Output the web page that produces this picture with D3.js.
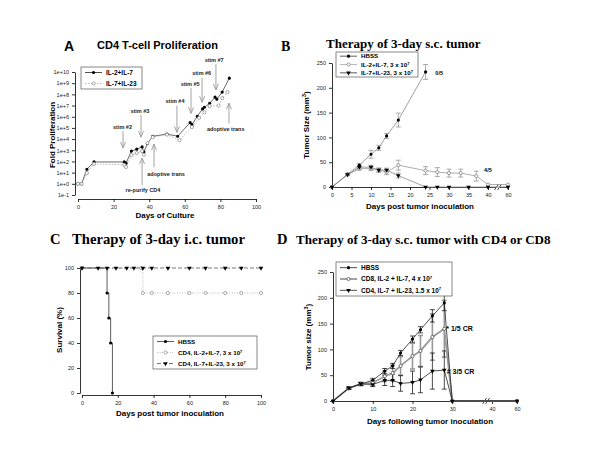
<!DOCTYPE html>
<html>
<head>
<meta charset="utf-8">
<script src="https://cdnjs.cloudflare.com/ajax/libs/d3/7.8.5/d3.min.js"></script>
<style>
body { margin: 0; background: #fff; }
svg text { font-family: Arial, "Liberation Sans", sans-serif; }
.serif { font-family: "Times New Roman", "Liberation Serif", serif; font-weight: bold; }
.lab { font-weight: bold; }
</style>
</head>
<body>
<svg id="fig" width="600" height="450"></svg>
<script>

// ---- Panel A: CD4 T-cell proliferation (fold) ----
const aDaysIL27  = [0, 2, 5, 9, 26, 27, 30, 33, 36, 37, 39, 42, 50, 56, 63, 64, 67, 70, 71, 74, 77, 78, 81, 85];
const aFoldIL27  = [1, 1, 20, 90, 90, 70, 850, 1250, 2000, 700, 4000, 18000, 28000, 18000, 3e5, 2e5, 1.1e6, 5e6, 7e6, 1.6e7, 5.6e7, 3.7e7, 1.6e8, 2.8e9];
const aDaysIL723 = [0, 2, 5, 9, 26, 27, 30, 33, 36, 37, 39, 42, 50, 57, 64, 68, 71, 74, 79, 81, 84];
const aFoldIL723 = [1, 1, 9, 60, 50, 32, 370, 560, 850, 400, 4400, 15000, 25000, 8000, 1.2e5, 8e5, 2.5e6, 9e6, 1e7, 4.5e7, 1.6e8];
const aYTicks = [1e-1, 1e0, 1e1, 1e2, 1e3, 1e4, 1e5, 1e6, 1e7, 1e8, 1e9, 1e10];
const aXTicks = [0, 20, 40, 60, 80, 100];
const aNoteText = ["stim #2", "stim #3", "stim #4", "stim #5", "stim #6", "stim #7", "re-purify CD4", "adoptive trans", "adoptive trans"];
const aNoteDay  = [25.3, 35.4, 55.6, 63.5, 69.7, 77.5, 36, 42.7, 84.8];
const aNoteTextDay = [25, 34.8, 54.5, 63, 69.5, 76.5, 36.5, 49.5, 83];
const aNoteTextAt  = [1.2e5, 3e6, 2.5e7, 8e8, 8e9, 1.1e11, 0.28, 7.5, 8e4];
const aNoteFrom = [5e4, 1.4e6, 1e7, 3.5e8, 3e9, 5e10, 0.8, 30, 2.5e5];
const aNoteTo   = [1.6e3, 1.5e4, 4e4, 2e6, 2e7, 2.5e8, 200, 3500, 1.6e7];

// ---- Panel B: s.c. tumor size ----
const bDaysHBSS = [0, 4, 7, 10, 12, 14, 17, 24];
const bHBSS     = [0, 26, 44, 66, 79, 103, 135, 232];
const bHBSSErr  = [0, 2, 3, 8, 5, 5, 14, 15];
const bDaysIL27 = [0, 4, 7, 10, 12, 14, 17, 24, 27, 30, 33, 37, 40, 60];
const bIL27     = [0, 25, 37, 37, 34, 30, 44, 33, 30, 28, 28, 22, 5, 5];
const bIL27Err  = [0, 2, 3, 4, 4, 5, 10, 8, 9, 8, 8, 10, 0, 0];
const bDaysIL723 = [0, 4, 7, 10, 12, 14, 17, 24, 27, 30, 35, 40, 60];
const bIL723     = [0, 25, 40, 40, 34, 34, 23, 0, 0, 0, 0, 0, 0];
const bIL723Err  = [0, 2, 3, 4, 4, 4, 5, 0, 0, 0, 0, 0, 0];
const bXTicks = [0, 5, 10, 15, 20, 25, 30, 35, 40, 60];
const bYTicks = [0, 50, 100, 150, 200, 250];

// ---- Panel C: i.c. tumor survival ----
const cDaysHBSS = [0, 14, 15, 16, 17];
const cSurvHBSS = [100, 80, 60, 40, 0];
const cDaysIL27 = [0, 33, 34, 39, 48, 60, 69, 80, 89, 100];
const cSurvIL27 = [100, 100, 80, 80, 80, 80, 80, 80, 80, 80];
const cDaysIL723 = [0, 9, 14, 19, 25, 29, 34, 39, 48, 60, 69, 80, 89, 100];
const cSurvIL723 = [100, 100, 100, 100, 100, 100, 100, 100, 100, 100, 100, 100, 100, 100];
const cXTicks = [0, 20, 40, 60, 80, 100];
const cYTicks = [0, 20, 40, 60, 80, 100];

// ---- Panel D: s.c. tumor with CD4 or CD8 ----
const dDays    = [0, 4, 7, 10, 13, 15, 17, 20, 22, 25, 28, 30, 60];
const dHBSS    = [0, 25, 33, 40, 58, 68, 93, 120, 138, 165, 190, 0, 0];
const dHBSSErr = [0, 2, 3, 4, 5, 5, 5, 6, 6, 12, 15, 0, 0];
const dCD8     = [0, 25, 33, 35, 48, 54, 68, 87, 97, 124, 140, 0, 0];
const dCD8Err  = [0, 2, 3, 5, 10, 15, 18, 25, 30, 45, 55, 0, 0];
const dCD4     = [0, 25, 33, 32, 40, 40, 34, 36, 41, 58, 60, 0, 0];
const dCD4Err  = [0, 2, 3, 4, 10, 12, 15, 22, 25, 35, 37, 0, 0];
const dXTicks = [0, 10, 20, 30, 40, 60];
const dYTicks = [0, 50, 100, 150, 200, 250];

const svg = d3.select("#fig");
const zip = (xs, ys, es) => xs.map((x, i) => ({x: x, y: ys[i], e: es ? es[i] : 0}));

// style a d3 axis the SigmaPlot way: thin, tiny labels
function styleAxis(g) {
	g.attr("font-size", 5.5).attr("font-family", "Arial, 'Liberation Sans', sans-serif");
	g.select(".domain").attr("stroke", "#000").attr("stroke-width", 0.8);
	g.selectAll(".tick line").attr("stroke", "#000").attr("stroke-width", 0.8);
	g.selectAll(".tick text").attr("fill", "#222");
}

// markers: filled circle, open circle, down triangle
function drawMarkers(g, pts, x, y, kind, col) {
	const sel = g.append("g").selectAll("path").data(pts).join("path")
		.attr("transform", d => `translate(${x(d.x)},${y(d.y)})` + (kind === "tri" ? " rotate(180)" : ""));
	if (kind === "tri") {
		sel.attr("d", d3.symbol(d3.symbolTriangle, 9)).attr("fill", col || "#000");
	} else {
		sel.attr("d", d3.symbol(d3.symbolCircle, 8))
			.attr("fill", kind === "open" ? "#fff" : (col || "#000"))
			.attr("stroke", kind === "open" ? (col || "#777") : "none")
			.attr("stroke-width", 0.7);
	}
}

function drawErrors(g, pts, x, y, col, w) {
	const eb = g.append("g").attr("stroke", col).attr("stroke-width", w || 0.7).attr("fill", "none");
	pts.filter(d => d.e > 0).forEach(d => {
		const cx = x(d.x), y0 = y(d.y - d.e), y1 = y(d.y + d.e);
		eb.append("line").attr("x1", cx).attr("x2", cx).attr("y1", y0).attr("y2", y1);
		eb.append("line").attr("x1", cx - 2.5).attr("x2", cx + 2.5).attr("y1", y0).attr("y2", y0);
		eb.append("line").attr("x1", cx - 2.5).attr("x2", cx + 2.5).attr("y1", y1).attr("y2", y1);
	});
}

function drawLine(g, pts, x, y, opts) {
	g.append("path").datum(pts)
		.attr("fill", "none")
		.attr("stroke", opts.color)
		.attr("stroke-width", opts.width || 0.8)
		.attr("stroke-dasharray", opts.dash || null)
		.attr("d", d3.line().x(d => x(d.x)).y(d => y(d.y)).curve(opts.curve || d3.curveLinear));
}

// legend rows: [{label, kind, color, dash, width, sup}]
function drawLegend(g, x0, y0, w, h, rows, fs) {
	const lg = g.append("g");
	lg.append("rect").attr("x", x0).attr("y", y0).attr("width", w).attr("height", h)
		.attr("fill", "#fff").attr("stroke", "#555").attr("stroke-width", 0.7);
	const step = h / rows.length;
	rows.forEach((r, i) => {
		const cy = y0 + step * (i + 0.5);
		lg.append("line").attr("x1", x0 + 4).attr("x2", x0 + 21).attr("y1", cy).attr("y2", cy)
			.attr("stroke", r.color).attr("stroke-width", r.width || 0.8).attr("stroke-dasharray", r.dash || null);
		const id = d3.scaleLinear();
		drawMarkers(lg, [{x: x0 + 12.5, y: cy}], id, id, r.kind, r.mcol);
		const t = lg.append("text").attr("class", "lab").attr("x", x0 + 25).attr("y", cy).attr("dy", "0.35em")
			.attr("font-size", fs).text(r.label);
		if (r.sup) t.append("tspan").attr("font-size", fs * 0.65).attr("dy", "-0.5em").text(r.sup);
	});
}

function breakMarks(g, cx, cy) {
	const b = g.append("g");
	b.append("rect").attr("x", cx - 2).attr("y", cy - 3).attr("width", 4).attr("height", 6).attr("fill", "#fff");
	[-1.5, 1.5].forEach(o => b.append("line").attr("x1", cx + o - 2).attr("x2", cx + o + 2)
		.attr("y1", cy + 3).attr("y2", cy - 3).attr("stroke", "#000").attr("stroke-width", 0.7));
}

// ================= Panel A =================
(function() {
	const g = svg.append("g");
	const x = d3.scaleLinear().domain([0, 100]).range([78, 256]);
	const y = d3.scaleLog().domain([1e-1, 1e10]).range([195, 72]);

	g.append("g").attr("transform", "translate(0,199)")
		.call(d3.axisBottom(x).tickValues(aXTicks).tickSize(3).tickSizeOuter(0)).call(styleAxis);
	g.append("g").attr("transform", "translate(75,0)")
		.call(d3.axisLeft(y).tickValues(aYTicks).tickSize(3).tickSizeOuter(0)
			.tickFormat(d => { const e = Math.round(Math.log10(d)); return "1e" + (e >= 0 ? "+" : "") + e; }))
		.call(styleAxis);

	const il27 = zip(aDaysIL27, aFoldIL27);
	const il723 = zip(aDaysIL723, aFoldIL723);
	drawLine(g, il27, x, y, {color: "#444"});
	drawLine(g, il723, x, y, {color: "#aaa", dash: "1.5,1.5"});
	drawMarkers(g, il27, x, y, "filled");
	drawMarkers(g, il723, x, y, "open", "#888");

	// annotation arrows
	const ag = g.append("g");
	aNoteText.forEach((t, i) => {
		const ax = x(aNoteDay[i]), y1 = y(aNoteFrom[i]), y2 = y(aNoteTo[i]);
		const dir = y2 > y1 ? 1 : -1;
		ag.append("line").attr("x1", ax).attr("x2", ax).attr("y1", y1).attr("y2", y2)
			.attr("stroke", "#999").attr("stroke-width", 0.9);
		ag.append("path").attr("d", `M${ax - 2.5},${y2 - dir * 6} L${ax},${y2} L${ax + 2.5},${y2 - dir * 6}`)
			.attr("fill", "none").attr("stroke", "#999").attr("stroke-width", 0.9);
		ag.append("text").attr("class", "lab").attr("x", x(aNoteTextDay[i])).attr("y", y(aNoteTextAt[i]))
			.attr("dy", "0.35em").attr("text-anchor", "middle").attr("font-size", 5.5).attr("fill", "#222").text(t);
	});

	drawLegend(g, 81, 67, 61, 22, [
		{label: "IL-2+IL-7", kind: "filled", color: "#222"},
		{label: "IL-7+IL-23", kind: "open", color: "#aaa", dash: "1.5,1.5", mcol: "#888"}
	], 6.5);

	g.append("text").attr("class", "lab").attr("x", 64).attr("y", 51).attr("font-size", 14).text("A");
	g.append("text").attr("class", "lab").attr("x", 97).attr("y", 49).attr("font-size", 11).text("CD4 T-cell Proliferation");
	g.append("text").attr("class", "lab").attr("x", 165).attr("y", 218).attr("text-anchor", "middle")
		.attr("font-size", 8).text("Days of Culture");
	g.append("text").attr("class", "lab").attr("transform", "translate(55,135) rotate(-90)")
		.attr("text-anchor", "middle").attr("font-size", 8).text("Fold Proliferation");
})();

// ================= Panel B =================
(function() {
	const g = svg.append("g");
	const x = d3.scaleLinear().domain([0, 40, 60]).range([332, 488, 508]);
	const y = d3.scaleLinear().domain([0, 250]).range([187, 63]);

	g.append("g").attr("transform", "translate(0,187)")
		.call(d3.axisBottom(x).tickValues(bXTicks).tickSize(3).tickSizeOuter(0)).call(styleAxis);
	g.append("g").attr("transform", "translate(332,0)")
		.call(d3.axisLeft(y).tickValues(bYTicks).tickSize(3).tickSizeOuter(0)).call(styleAxis);
	breakMarks(g, x(50), 187);

	const hb = zip(bDaysHBSS, bHBSS, bHBSSErr);
	const s1 = zip(bDaysIL27, bIL27, bIL27Err);
	const s2 = zip(bDaysIL723, bIL723, bIL723Err);
	drawErrors(g, hb, x, y, "#888");
	drawErrors(g, s1, x, y, "#888");
	drawErrors(g, s2, x, y, "#888");
	drawLine(g, hb, x, y, {color: "#888"});
	drawLine(g, s1, x, y, {color: "#999"});
	drawLine(g, s2, x, y, {color: "#888"});
	drawMarkers(g, hb, x, y, "filled");
	drawMarkers(g, s1, x, y, "open", "#777");
	drawMarkers(g, s2, x, y, "tri");

	g.append("text").attr("class", "lab").attr("x", x(26.5)).attr("y", y(230)).attr("dy", "0.35em")
		.attr("font-size", 5.5).text("0/5");
	g.append("text").attr("class", "lab").attr("x", x(39)).attr("y", y(34)).attr("dy", "0.35em")
		.attr("font-size", 5.5).text("4/5");

	drawLegend(g, 336, 52, 82, 25, [
		{label: "HBSS", kind: "filled", color: "#333"},
		{label: "IL-2+IL-7, 3 x 10", sup: "7", kind: "open", color: "#aaa", mcol: "#777"},
		{label: "IL-7+IL-23, 3 x 10", sup: "7", kind: "tri", color: "#333"}
	], 6.2);

	g.append("text").attr("class", "serif").attr("x", 281).attr("y", 51).attr("font-size", 14).text("B");
	g.append("text").attr("class", "serif").attr("x", 326).attr("y", 48).attr("font-size", 13).text("Therapy of 3-day s.c. tumor");
	g.append("text").attr("class", "lab").attr("x", 420).attr("y", 209).attr("text-anchor", "middle")
		.attr("font-size", 8).text("Days post tumor inoculation");
	const yt = g.append("text").attr("class", "lab").attr("transform", "translate(309,125) rotate(-90)")
		.attr("text-anchor", "middle").attr("font-size", 8).text("Tumor Size (mm");
	yt.append("tspan").attr("font-size", 5.5).attr("dy", "-0.6em").text("3");
	yt.append("tspan").attr("dy", "0.4em").text(")");
})();

// ================= Panel C =================
(function() {
	const g = svg.append("g");
	const x = d3.scaleLinear().domain([0, 100]).range([82, 261]);
	const y = d3.scaleLinear().domain([0, 100]).range([393, 268]);

	g.append("g").attr("transform", "translate(0,395)")
		.call(d3.axisBottom(x).tickValues(cXTicks).tickSize(3).tickSizeOuter(0)).call(styleAxis);
	g.append("g").attr("transform", "translate(80,0)")
		.call(d3.axisLeft(y).tickValues(cYTicks).tickSize(3).tickSizeOuter(0)).call(styleAxis);

	const hb = zip(cDaysHBSS, cSurvHBSS);
	const s1 = zip(cDaysIL27, cSurvIL27);
	const s2 = zip(cDaysIL723, cSurvIL723);
	drawLine(g, s1, x, y, {color: "#aaa", dash: "1,1.5", curve: d3.curveStepAfter});
	drawLine(g, hb, x, y, {color: "#333", curve: d3.curveStepAfter});
	drawLine(g, s2, x, y, {color: "#555", dash: "4,2", curve: d3.curveStepAfter});
	drawMarkers(g, hb, x, y, "filled");
	drawMarkers(g, s1, x, y, "open", "#888");
	drawMarkers(g, s2, x, y, "tri");

	drawLegend(g, 153, 336, 104, 33, [
		{label: "HBSS", kind: "filled", color: "#333"},
		{label: "CD4, IL-2+IL-7, 3 x 10", sup: "7", kind: "open", color: "#aaa", dash: "1,1.5", mcol: "#888"},
		{label: "CD4, IL-7+IL-23, 3 x 10", sup: "7", kind: "tri", color: "#555", dash: "4,2"}
	], 6.2);

	g.append("text").attr("class", "serif").attr("x", 50).attr("y", 244).attr("font-size", 14.5).text("C");
	g.append("text").attr("class", "serif").attr("x", 72).attr("y", 244).attr("font-size", 14.7)
		.text("Therapy of 3-day i.c. tumor");
	g.append("text").attr("class", "lab").attr("x", 170).attr("y", 416).attr("text-anchor", "middle")
		.attr("font-size", 8).text("Days post tumor inoculation");
	g.append("text").attr("class", "lab").attr("transform", "translate(62,330) rotate(-90)")
		.attr("text-anchor", "middle").attr("font-size", 8).text("Survival (%)");
})();

// ================= Panel D =================
(function() {
	const g = svg.append("g");
	const x = d3.scaleLinear().domain([0, 40, 60]).range([333, 492, 517]);
	const y = d3.scaleLinear().domain([0, 250]).range([401, 272]);

	g.append("g").attr("transform", "translate(0,401)")
		.call(d3.axisBottom(x).tickValues(dXTicks).tickSize(3).tickSizeOuter(0)).call(styleAxis);
	g.append("g").attr("transform", "translate(333,0)")
		.call(d3.axisLeft(y).tickValues(dYTicks).tickSize(3).tickSizeOuter(0)).call(styleAxis);
	breakMarks(g, x(38.5), 401);

	const hb = zip(dDays, dHBSS, dHBSSErr);
	const c8 = zip(dDays, dCD8, dCD8Err);
	const c4 = zip(dDays, dCD4, dCD4Err);
	drawErrors(g, c8, x, y, "#999", 1.6);
	drawErrors(g, hb, x, y, "#000", 0.7);
	drawErrors(g, c4, x, y, "#000", 0.7);
	drawLine(g, c8, x, y, {color: "#999", width: 1.8});
	drawLine(g, hb, x, y, {color: "#222"});
	drawLine(g, c4, x, y, {color: "#222"});
	drawMarkers(g, hb, x, y, "filled");
	drawMarkers(g, c8, x, y, "open", "#444");
	drawMarkers(g, c4, x, y, "tri");

	g.append("text").attr("class", "lab").attr("x", x(28.5)).attr("y", y(140)).attr("dy", "0.35em")
		.attr("font-size", 7).text("*   1/5 CR");
	g.append("text").attr("class", "lab").attr("x", x(28.6)).attr("y", y(58)).attr("dy", "0.35em")
		.attr("font-size", 7).text("#  3/5 CR");

	drawLegend(g, 336, 262, 116, 34, [
		{label: "HBSS", kind: "filled", color: "#222"},
		{label: "CD8, IL-2 + IL-7,    4 x 10", sup: "7", kind: "open", color: "#999", width: 1.8, mcol: "#444"},
		{label: "CD4, IL-7 + IL-23, 1.5 x 10", sup: "7", kind: "tri", color: "#222"}
	], 6.5);

	g.append("text").attr("class", "serif").attr("x", 277).attr("y", 244).attr("font-size", 14.5).text("D");
	g.append("text").attr("class", "serif").attr("x", 296).attr("y", 244).attr("font-size", 13)
		.text("Therapy of 3-day s.c. tumor with CD4 or CD8");
	g.append("text").attr("class", "lab").attr("x", 430).attr("y", 424).attr("text-anchor", "middle")
		.attr("font-size", 8).text("Days following tumor inoculation");
	const yt = g.append("text").attr("class", "lab").attr("transform", "translate(311,337) rotate(-90)")
		.attr("text-anchor", "middle").attr("font-size", 8).text("Tumor size (mm");
	yt.append("tspan").attr("font-size", 5.5).attr("dy", "-0.6em").text("3");
	yt.append("tspan").attr("dy", "0.4em").text(")");
})();
</script>
</body>
</html>
